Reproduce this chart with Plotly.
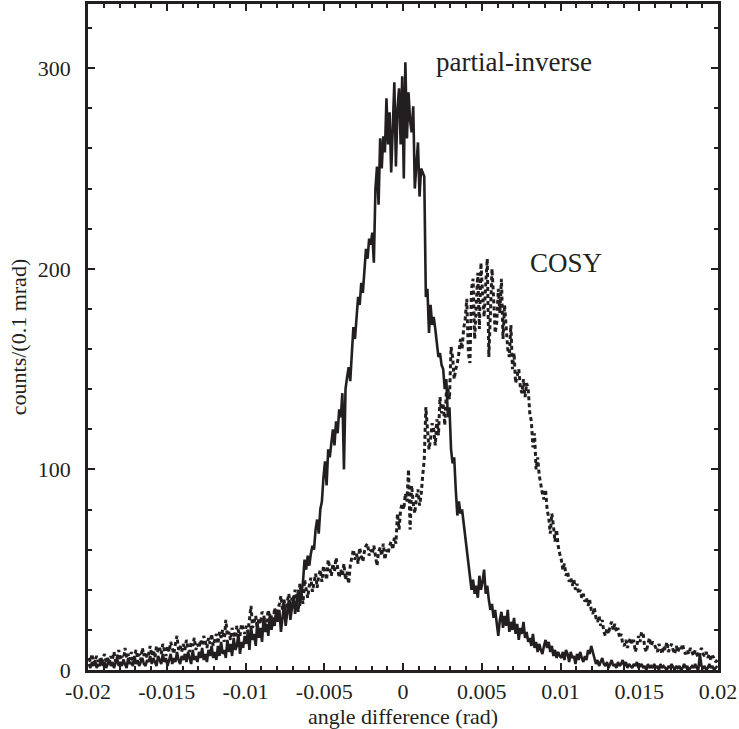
import plotly.graph_objects as go

# bin width 0.1 mrad, 400 bins from -0.02 to 0.02 rad
bin_width = 0.0001
x_start = -0.02

partial_inverse = [
    3, 1, 4, 2, 5, 1, 3, 2, 6, 2, 4, 1, 3, 5, 2, 4, 1, 3, 6, 2,
    4, 2, 5, 3, 1, 6, 3, 4, 2, 7, 3, 5, 2, 4, 6, 3, 2, 5, 4, 7,
    3, 6, 4, 2, 7, 5, 3, 8, 4, 6, 2, 5, 8, 3, 6, 4, 9, 5, 3, 7,
    5, 8, 4, 9, 6, 3, 10, 5, 7, 4, 9, 6, 11, 5, 8, 4, 10, 7, 12, 6,
    9, 5, 12, 7, 14, 8, 10, 6, 15, 9, 13, 7, 16, 10, 12, 18, 8, 14, 11, 17,
    13, 19, 10, 22, 15, 18, 12, 24, 16, 21, 14, 26, 19, 23, 17, 28, 20, 25, 22, 30,
    24, 30, 19, 27, 33, 22, 29, 35, 25, 31, 37, 28, 34, 40, 32, 38, 44, 55, 50, 57,
    52, 58, 62, 60, 70, 75, 68, 80, 84, 96, 104, 92, 110, 106, 115, 120, 112, 124, 118, 130,
    126, 138, 100, 140, 146, 151, 144, 160, 171, 165, 178, 186, 182, 193, 188, 200, 210, 205, 215, 212,
    218, 203, 240, 251, 232, 265, 250, 266, 258, 285, 262, 278, 248, 270, 293, 251, 280, 290, 262, 296,
    245, 303, 265, 288, 274, 268, 281, 240, 255, 263, 236, 250, 248, 246, 186, 190, 168, 182, 172, 176,
    170, 161, 156, 158, 152, 150, 140, 145, 126, 131, 110, 103, 106, 90, 77, 84, 78, 80, 73, 68,
    62, 55, 48, 40, 45, 38, 42, 36, 47, 40, 44, 50, 38, 42, 35, 30, 33, 26, 30, 22,
    17, 25, 29, 21, 27, 22, 30, 19, 24, 20, 26, 18, 23, 15, 21, 18, 24, 16, 19, 14,
    16, 12, 18, 11, 14, 9, 13, 10, 8, 12, 15, 11, 14, 9, 12, 7, 10, 6, 9, 7,
    6, 9, 5, 10, 8, 4, 9, 6, 7, 3, 8, 5, 9, 6, 4, 7, 5, 10, 8, 12,
    9, 6, 3, 5, 2, 4, 6, 3, 2, 4, 1, 3, 5, 2, 3, 1, 4, 2, 3, 5,
    2, 4, 1, 3, 2, 1, 3, 2, 4, 1, 2, 3, 1, 2, 0, 3, 1, 2, 1, 3,
    1, 2, 0, 3, 1, 2, 1, 0, 2, 1, 3, 1, 0, 2, 1, 2, 0, 1, 3, 1,
    2, 0, 1, 2, 1, 3, 1, 0, 8, 2, 1, 2, 0, 1, 3, 1, 2, 0, 1, 2,
]

cosy = [
    6, 4, 8, 3, 5, 7, 4, 6, 3, 5, 8, 4, 6, 3, 7, 5, 9, 4, 6, 10,
    5, 7, 4, 11, 6, 8, 5, 9, 4, 7, 10, 6, 8, 5, 11, 7, 9, 6, 8, 12,
    7, 10, 6, 12, 9, 11, 8, 13, 10, 7, 12, 9, 14, 11, 8, 13, 17, 10, 12, 9,
    13, 10, 15, 11, 9, 14, 12, 16, 10, 13, 11, 15, 12, 17, 14, 11, 16, 13, 18, 12,
    15, 18, 13, 19, 16, 20, 14, 25, 17, 19, 15, 21, 18, 16, 22, 19, 17, 23, 20, 18,
    22, 19, 25, 32, 21, 24, 27, 20, 26, 23, 29, 28, 22, 25, 30, 24, 27, 23, 31, 26,
    29, 33, 37, 30, 35, 28, 34, 38, 31, 36, 33, 40, 35, 29, 43, 38, 33, 45, 40, 36,
    42, 46, 39, 44, 48, 41, 47, 50, 44, 52, 48, 45, 55, 50, 47, 53, 49, 56, 51, 46,
    50, 47, 53, 45, 49, 43, 52, 56, 60, 55, 58, 53, 61, 57, 54, 59, 62, 63, 57, 60,
    58, 62, 56, 52, 59, 61, 57, 63, 55, 60, 58, 62, 64, 60, 66, 63, 78, 70, 80, 83,
    80, 88, 84, 100, 70, 92, 83, 78, 86, 90, 82, 87, 97, 105, 131, 118, 110, 115, 123, 120,
    112, 125, 117, 136, 128, 133, 122, 138, 140, 135, 161, 156, 145, 150, 153, 158, 165, 160, 170, 175,
    185, 158, 153, 190, 195, 165, 180, 198, 170, 203, 188, 176, 192, 205, 156, 184, 200, 186, 168, 173,
    190, 178, 195, 165, 182, 171, 160, 156, 172, 150, 158, 143, 147, 150, 141, 138, 145, 136, 143, 140,
    128, 124, 111, 118, 100, 106, 97, 92, 88, 85, 90, 80, 76, 68, 78, 72, 64, 70, 62, 58,
    55, 50, 53, 47, 49, 44, 46, 42, 45, 40, 43, 38, 40, 36, 38, 34, 36, 32, 35, 30,
    28, 31, 26, 24, 27, 22, 25, 19, 17, 21, 18, 22, 24, 20, 23, 19, 21, 16, 18, 13,
    12, 15, 11, 14, 16, 13, 15, 9, 12, 17, 14, 19, 18, 11, 9, 13, 16, 12, 14, 13,
    11, 9, 13, 10, 8, 12, 10, 14, 9, 11, 13, 10, 8, 12, 9, 11, 10, 13, 9, 8,
    10, 8, 11, 9, 7, 10, 8, 6, 9, 11, 8, 7, 9, 6, 8, 5, 7, 6, 4, 5,
]

x_centers = [x_start + (i + 0.5) * bin_width for i in range(len(partial_inverse))]

x_tick_vals = [-0.02, -0.015, -0.01, -0.005, 0, 0.005, 0.01, 0.015, 0.02]
x_tick_text = ["-0.02", "-0.015", "-0.01", "-0.005", "0", "0.005", "0.01", "0.015", "0.02"]
y_tick_vals = [0, 100, 200, 300]
y_tick_text = ["0", "100", "200", "300"]

FONT = "Liberation Serif, Times New Roman, serif"
INK = "#231f20"

fig = go.Figure()
fig.add_trace(go.Scatter(
    x=x_centers, y=cosy, mode="lines", name="COSY",
    line=dict(color=INK, width=3, dash="4px,3px"),
))
fig.add_trace(go.Scatter(
    x=x_centers, y=partial_inverse, mode="lines", name="partial-inverse",
    line=dict(color=INK, width=2.6),
))

axis_common = dict(
    showline=True, linecolor=INK, linewidth=2.5, mirror="ticks",
    ticks="inside", tickcolor=INK, tickwidth=2, ticklen=7,
    showgrid=False, zeroline=False,
    tickfont=dict(family=FONT, size=22, color=INK),
)

fig.update_xaxes(
    range=[-0.02, 0.02], tickvals=x_tick_vals, ticktext=x_tick_text,
    minor=dict(dtick=0.001, tick0=-0.02, ticks="inside", ticklen=4, tickwidth=1.5, tickcolor=INK),
    title=dict(text="angle difference (rad)", font=dict(family=FONT, size=22, color=INK), standoff=6),
    **axis_common,
)
fig.update_yaxes(
    range=[0, 332], tickvals=y_tick_vals, ticktext=y_tick_text,
    minor=dict(dtick=20, tick0=0, ticks="inside", ticklen=4, tickwidth=1.5, tickcolor=INK),
    title=dict(text="counts/(0.1 mrad)", font=dict(family=FONT, size=22, color=INK), standoff=6),
    ticklabelstandoff=10,
    **axis_common,
)

fig.add_annotation(x=0.00197, y=303, text="partial-inverse", showarrow=False,
                   xanchor="left", yanchor="middle",
                   font=dict(family=FONT, size=27, color=INK))
fig.add_annotation(x=0.00794, y=203, text="COSY", showarrow=False,
                   xanchor="left", yanchor="middle",
                   font=dict(family=FONT, size=27, color=INK))

fig.update_layout(
    width=739, height=729,
    margin=dict(l=88, r=21, t=4, b=59, autoexpand=False),
    paper_bgcolor="white", plot_bgcolor="white",
    showlegend=False,
)

fig.write_html(
    "out.html",
    config={"displayModeBar": False},
    post_script="document.body.style.margin='0';document.body.style.overflow='hidden';",
)
